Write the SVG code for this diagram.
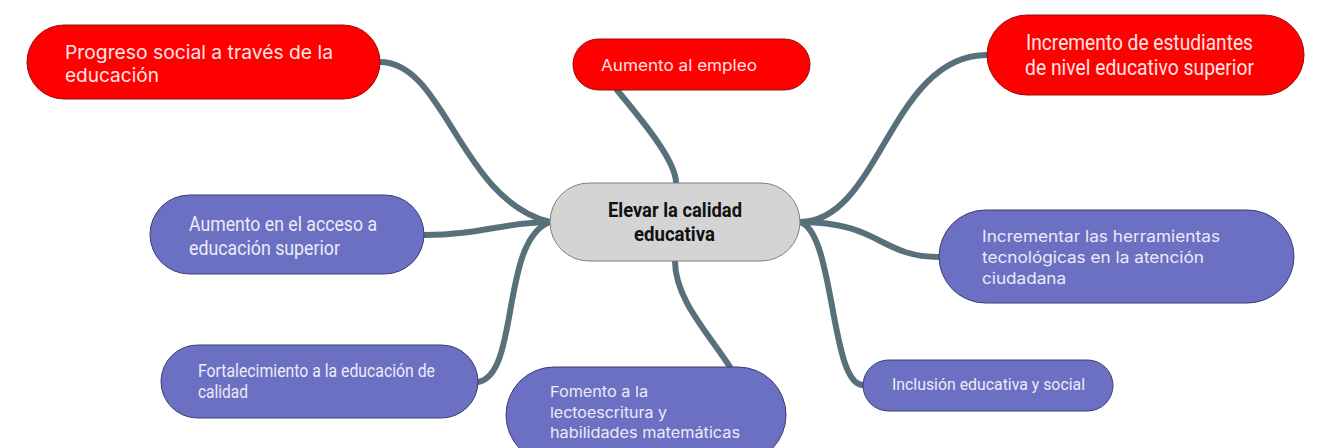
<svg xmlns="http://www.w3.org/2000/svg" width="1323" height="448" viewBox="0 0 1323 448">
<style>
.red{fill:#ff0000;stroke:#9a0a0a;stroke-width:1}
.pur{fill:#6b70c3;stroke:#3a3d70;stroke-width:1}
.cen{fill:#d4d4d4;stroke:#7f7f7f;stroke-width:1}
.conn path{fill:none;stroke:#57707a;stroke-width:6;stroke-linecap:round}
.tr{fill:#ffe4e4;font-family:Inter,"Liberation Sans",sans-serif}
.tp{fill:#ecebf7;font-family:Inter,"Liberation Sans",sans-serif}
.tc{fill:#ecebf7;font-family:Roboto,"Liberation Sans",sans-serif}
.tcr{fill:#ffe4e4;font-family:Roboto,"Liberation Sans",sans-serif}
.tb{fill:#111;font-family:Roboto,"Liberation Sans",sans-serif;font-weight:bold}
</style>
<rect width="1323" height="448" fill="#ffffff"/>
<g class="conn" id="connectors">
<path d="M380,62 C445,62 460,200 550,222"/>
<path d="M424,235 C480,235 505,222 550,222"/>
<path d="M478,382 C520,375 500,240 550,222"/>
<path d="M617,90 C640,118 676,160 676,183"/>
<path d="M675,261 C675,300 710,335 730,367"/>
<path d="M800,222 C880,222 890,55 987,55"/>
<path d="M800,222 C880,222 880,257 939,257"/>
<path d="M800,222 C835,232 830,385 863,385"/>
</g>
<g id="n-progreso">
<rect class="red" x="27" y="25" width="353" height="74" rx="37"/>
<text class="tr" font-size="19"><tspan x="65" y="59" textLength="268" lengthAdjust="spacingAndGlyphs">Progreso social a través de la</tspan><tspan x="65" y="82" textLength="94" lengthAdjust="spacingAndGlyphs">educación</tspan></text>
</g>
<g id="n-empleo">
<rect class="red" x="573" y="39" width="237" height="51" rx="25.5"/>
<text class="tr" font-size="16" x="601" y="71" textLength="156" lengthAdjust="spacingAndGlyphs">Aumento al empleo</text>
</g>
<g id="n-estudiantes">
<rect class="red" x="987" y="15" width="317" height="80" rx="40"/>
<text class="tcr" font-size="22"><tspan x="1026" y="50" textLength="227" lengthAdjust="spacingAndGlyphs">Incremento de estudiantes</tspan><tspan x="1025" y="75" textLength="229" lengthAdjust="spacingAndGlyphs">de nivel educativo superior</tspan></text>
</g>
<g id="n-central">
<rect class="cen" x="550" y="183" width="250" height="78" rx="39"/>
<text class="tb" font-size="20"><tspan x="608" y="217" textLength="134" lengthAdjust="spacingAndGlyphs">Elevar la calidad</tspan><tspan x="634" y="241" textLength="81" lengthAdjust="spacingAndGlyphs">educativa</tspan></text>
</g>
<g id="n-acceso">
<rect class="pur" x="150" y="195" width="274" height="79" rx="39.5"/>
<text class="tc" font-size="20"><tspan x="189" y="231" textLength="188" lengthAdjust="spacingAndGlyphs">Aumento en el acceso a</tspan><tspan x="189" y="255" textLength="151" lengthAdjust="spacingAndGlyphs">educación superior</tspan></text>
</g>
<g id="n-fortalecimiento">
<rect class="pur" x="161" y="345" width="317" height="73" rx="36.5"/>
<text class="tc" font-size="17.5"><tspan x="198" y="377" textLength="237" lengthAdjust="spacingAndGlyphs">Fortalecimiento a la educación de</tspan><tspan x="198" y="398" textLength="50" lengthAdjust="spacingAndGlyphs">calidad</tspan></text>
</g>
<g id="n-fomento">
<rect class="pur" x="506" y="367" width="280" height="96" rx="48"/>
<text class="tp" font-size="15"><tspan x="550" y="397" textLength="98" lengthAdjust="spacingAndGlyphs">Fomento a la</tspan><tspan x="550" y="418" textLength="117" lengthAdjust="spacingAndGlyphs">lectoescritura y</tspan><tspan x="550" y="438" textLength="190" lengthAdjust="spacingAndGlyphs">habilidades matemáticas</tspan></text>
</g>
<g id="n-herramientas">
<rect class="pur" x="939" y="210" width="355" height="93" rx="46.5"/>
<text class="tp" font-size="16"><tspan x="982" y="242" textLength="238" lengthAdjust="spacingAndGlyphs">Incrementar las herramientas</tspan><tspan x="982" y="263" textLength="222" lengthAdjust="spacingAndGlyphs">tecnológicas en la atención</tspan><tspan x="982" y="284" textLength="84" lengthAdjust="spacingAndGlyphs">ciudadana</tspan></text>
</g>
<g id="n-inclusion">
<rect class="pur" x="863" y="360" width="250" height="51" rx="25.5"/>
<text class="tc" font-size="17" x="892" y="390" textLength="193" lengthAdjust="spacingAndGlyphs">Inclusión educativa y social</text>
</g>
</svg>
